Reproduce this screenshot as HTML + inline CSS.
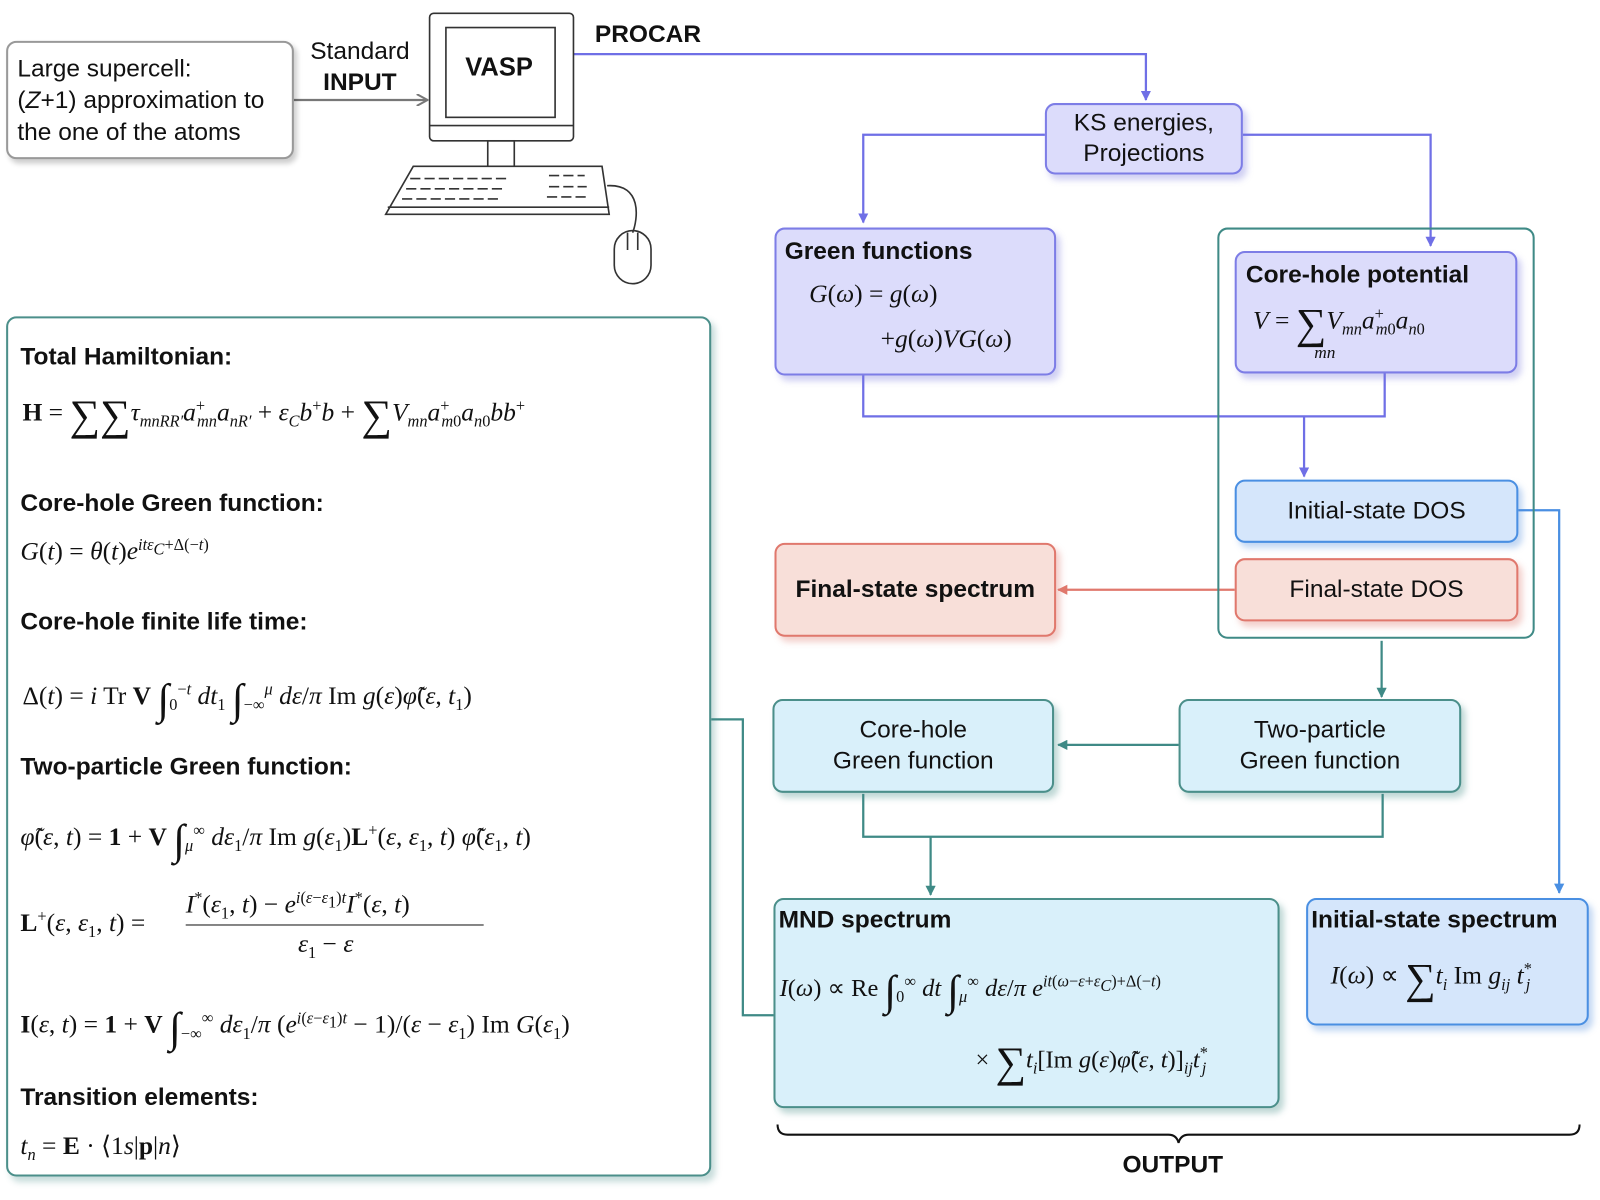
<!DOCTYPE html>
<html><head><meta charset="utf-8"><style>
html,body{margin:0;padding:0;background:#fff;width:1600px;height:1200px;overflow:hidden}
#w{position:absolute;left:0;top:0;width:1568px;height:1176px;transform:scale(1.0204);transform-origin:0 0;font-family:"Liberation Sans",sans-serif;color:#111}
.b{position:absolute;box-sizing:border-box;border-radius:10px;border:2.5px solid}
.p{background:#dcdcfb;border-color:#7d7de6;box-shadow:4px 5px 6px rgba(120,120,220,.35)}
.lb{background:#d5e6fb;border-color:#4a8fe2;box-shadow:4px 5px 6px rgba(80,140,220,.35)}
.r{background:#f8dfd9;border-color:#e0786d;box-shadow:4px 5px 6px rgba(220,120,110,.35)}
.t{background:#d9f0fa;border-color:#4b8f8a;box-shadow:4px 5px 6px rgba(70,140,135,.35)}
.c{display:flex;align-items:center;justify-content:center;text-align:center;font-size:24px;line-height:30px}
.h{font-weight:bold;font-size:24px;position:absolute}
.m{position:absolute;font-family:"Liberation Serif",serif;font-size:25px;white-space:nowrap}
i{font-style:italic}
.s{font-size:42px;vertical-align:-9px}
sub,sup{font-size:16px}
</style></head><body><div id="w">
<svg width="1568" height="1176" style="position:absolute;left:0;top:0">
<defs>
<marker id="ap" markerWidth="10" markerHeight="10" refX="9" refY="5" orient="auto" markerUnits="userSpaceOnUse"><path d="M0,0 L10,5 L0,10 z" fill="#6f6fe6"/></marker>
<marker id="ab" markerWidth="10" markerHeight="10" refX="9" refY="5" orient="auto" markerUnits="userSpaceOnUse"><path d="M0,0 L10,5 L0,10 z" fill="#4a8fe2"/></marker>
<marker id="ar" markerWidth="10" markerHeight="10" refX="9" refY="5" orient="auto" markerUnits="userSpaceOnUse"><path d="M0,0 L10,5 L0,10 z" fill="#e0786d"/></marker>
<marker id="at" markerWidth="10" markerHeight="10" refX="9" refY="5" orient="auto" markerUnits="userSpaceOnUse"><path d="M0,0 L10,5 L0,10 z" fill="#3f8a86"/></marker>
<marker id="ag" markerWidth="12" markerHeight="12" refX="11" refY="6" orient="auto" markerUnits="userSpaceOnUse"><path d="M0,0 L11,6 L0,12" fill="none" stroke="#777" stroke-width="2"/></marker>
</defs>
<g fill="none" stroke-width="2.2">
<path d="M562,53 H1123 V98" stroke="#6f6fe6" marker-end="url(#ap)"/>
<path d="M1024,132 H846 V218" stroke="#6f6fe6" marker-end="url(#ap)"/>
<path d="M1218,132 H1402 V241" stroke="#6f6fe6" marker-end="url(#ap)"/>
<path d="M846,368 V408 H1357 V366 M1278,408 V467" stroke="#6f6fe6" marker-end="url(#ap)"/>
<path d="M1488,500 H1528 V875" stroke="#4a8fe2" marker-end="url(#ab)"/>
<path d="M1210,578 H1037" stroke="#e0786d" marker-end="url(#ar)"/>
<path d="M1354,628 V683" stroke="#3f8a86" marker-end="url(#at)"/>
<path d="M1155,730 H1037" stroke="#3f8a86" marker-end="url(#at)"/>
<path d="M846,778 V820 H1355 V778 M912,820 V877" stroke="#3f8a86" marker-end="url(#at)"/>
<path d="M697,705 H728 V995 H758" stroke="#3f8a86"/>
<path d="M288,98 H419" stroke="#777" marker-end="url(#ag)"/>
<path d="M762,1102 q0,10 10,10 H1145 q8,0 10,8 q2,-8 10,-8 H1538 q10,0 10,-10" stroke="#111" stroke-width="2"/>
</g>
<g fill="none" stroke="#333" stroke-width="1.6">
<rect x="421" y="13" width="141" height="125" rx="4" fill="#fff"/>
<rect x="437" y="27" width="107" height="88" fill="#fff"/>
<line x1="421" y1="123" x2="562" y2="123"/>
<rect x="478" y="138" width="26" height="25"/>
<path d="M405,163 H590 L597,210 H378 Z" fill="#fff"/>
<line x1="380" y1="203" x2="597" y2="203"/>
<path d="M595,182 C630,180 625,215 620,228"/>
<rect x="602" y="226" width="36" height="52" rx="18"/>
<path d="M615,228 V245 M625,228 V245"/>
<path d="M402,175 h95 M398,185 h95 M394,195 h95 M538,172 h35 M538,183 h37 M536,193 h39" stroke-dasharray="10,4"/>
</g>
</svg>
<div class="b" style="left:6px;top:40px;width:282px;height:116px;border-color:#999;box-shadow:3px 4px 5px rgba(0,0,0,.2);padding:10px 0 0 9px;font-size:24px;line-height:31px;background:#fff;white-space:nowrap">Large supercell:<br>(<i>Z</i>+1) approximation to<br>the one of the atoms</div>
<div style="position:absolute;left:304px;top:36px;font-size:24px;text-align:center;line-height:30px">Standard<br><b>INPUT</b></div>
<div style="position:absolute;left:456px;top:52px;font-size:25px;font-weight:bold">VASP</div>
<div style="position:absolute;left:583px;top:20px;font-size:24px;font-weight:bold">PROCAR</div>
<div class="b p c" style="left:1024px;top:101px;width:194px;height:70px">KS energies,<br>Projections</div>
<div class="b p" style="left:759px;top:223px;width:276px;height:145px"><div class="h" style="left:8px;top:8px">Green functions</div>
<div class="m" style="left:32px;top:50px"><i>G</i>(<i>ω</i>) = <i>g</i>(<i>ω</i>)</div><div class="m" style="left:102px;top:94px">+<i>g</i>(<i>ω</i>)<i>VG</i>(<i>ω</i>)</div></div>
<div class="b" style="left:1193px;top:223px;width:311px;height:403px;border-color:#3f8a86;border-radius:10px"></div>
<div class="b p" style="left:1210px;top:246px;width:277px;height:120px"><div class="h" style="left:9px;top:8px">Core-hole potential</div>
<div class="m" style="left:16px;top:46px"><i>V</i> = <span class="s">∑</span><i>V<sub>mn</sub>a</i><sup>+</sup><sub style="margin-left:-8px"><i>m</i>0</sub><i>a<sub>n</sub></i><sub>0</sub></div><div class="m" style="left:76px;top:88px;font-size:17px"><i>mn</i></div></div>
<div class="b lb c" style="left:1210px;top:470px;width:278px;height:62px">Initial-state DOS</div>
<div class="b r c" style="left:1210px;top:547px;width:278px;height:62px">Final-state DOS</div>
<div class="b r c" style="left:759px;top:532px;width:276px;height:92px;font-weight:bold">Final-state spectrum</div>
<div class="b t c" style="left:757px;top:685px;width:276px;height:92px">Core-hole<br>Green function</div>
<div class="b t c" style="left:1155px;top:685px;width:277px;height:92px">Two-particle<br>Green function</div>
<div class="b t" style="left:758px;top:880px;width:496px;height:206px"><div class="h" style="left:3px;top:6px">MND spectrum</div>
<div class="m" style="left:4px;top:66px;font-size:24px"><i>I</i>(<i>ω</i>) ∝ Re <span class="s">∫</span><sub>0</sub><sup>∞</sup> <i>dt</i> <span class="s">∫</span><sub><i>μ</i></sub><sup>∞</sup> <i>dε</i>/<i>π</i> <i>e<sup>it</sup></i><sup>(<i>ω</i>−<i>ε</i>+<i>ε<sub>C</sub></i>)+Δ(−<i>t</i>)</sup></div>
<div class="m" style="left:196px;top:136px;font-size:24px">× <span class="s">∑</span><i>t<sub>i</sub></i>[Im <i>g</i>(<i>ε</i>)<i>φ̃</i>(<i>ε</i>, <i>t</i>)]<sub><i>ij</i></sub><i>t</i><sup>*</sup><sub style="margin-left:-6px"><i>j</i></sub></div></div>
<div class="b lb" style="left:1280px;top:880px;width:277px;height:125px"><div class="h" style="left:3px;top:6px">Initial-state spectrum</div>
<div class="m" style="left:22px;top:54px"><i>I</i>(<i>ω</i>) ∝ <span class="s">∑</span><i>t<sub>i</sub></i> Im <i>g<sub>ij</sub> t</i><sup>*</sup><sub style="margin-left:-6px"><i>j</i></sub></div></div>
<div style="position:absolute;left:1100px;top:1128px;font-size:24px;font-weight:bold">OUTPUT</div>
<div class="b" style="left:6px;top:310px;width:691px;height:843px;border-color:#4b8f8a;background:#fff;box-shadow:4px 5px 6px rgba(70,140,135,.3)">
<div class="h" style="left:12px;top:24px">Total Hamiltonian:</div>
<div class="m" style="left:14px;top:72px"><b>H</b> = <span class="s">∑∑</span><i>τ<sub>mnRR′</sub>a</i><sup>+</sup><sub style="margin-left:-8px"><i>mn</i></sub><i>a<sub>nR′</sub></i> + <i>ε<sub>C</sub>b</i><sup>+</sup><i>b</i> + <span class="s">∑</span><i>V<sub>mn</sub>a</i><sup>+</sup><sub style="margin-left:-8px"><i>m</i>0</sub><i>a<sub>n</sub></i><sub>0</sub><i>bb</i><sup>+</sup></div>
<div class="h" style="left:12px;top:168px">Core-hole Green function:</div>
<div class="m" style="left:12px;top:214px"><i>G</i>(<i>t</i>) = <i>θ</i>(<i>t</i>)<i>e<sup>itε<sub>C</sub></sup></i><sup>+Δ(−<i>t</i>)</sup></div>
<div class="h" style="left:12px;top:284px">Core-hole finite life time:</div>
<div class="m" style="left:14px;top:350px">Δ(<i>t</i>) = <i>i</i> Tr <b>V</b> <span class="s">∫</span><sub>0</sub><sup>−<i>t</i></sup> <i>dt</i><sub>1</sub> <span class="s">∫</span><sub>−∞</sub><sup><i>μ</i></sup> <i>dε</i>/<i>π</i> Im <i>g</i>(<i>ε</i>)<i>φ̃</i>(<i>ε</i>, <i>t</i><sub>1</sub>)</div>
<div class="h" style="left:12px;top:426px">Two-particle Green function:</div>
<div class="m" style="left:12px;top:488px"><i>φ̃</i>(<i>ε</i>, <i>t</i>) = <b>1</b> + <b>V</b> <span class="s">∫</span><sub><i>μ</i></sub><sup>∞</sup> <i>dε</i><sub>1</sub>/<i>π</i> Im <i>g</i>(<i>ε</i><sub>1</sub>)<b>L</b><sup>+</sup>(<i>ε</i>, <i>ε</i><sub>1</sub>, <i>t</i>) <i>φ̃</i>(<i>ε</i><sub>1</sub>, <i>t</i>)</div>
<div class="m" style="left:12px;top:578px"><b>L</b><sup>+</sup>(<i>ε</i>, <i>ε</i><sub>1</sub>, <i>t</i>) =</div>
<div class="m" style="left:174px;top:560px"><i>I</i><sup>*</sup>(<i>ε</i><sub>1</sub>, <i>t</i>) − <i>e</i><sup><i>i</i>(<i>ε</i>−<i>ε</i><sub>1</sub>)<i>t</i></sup><i>I</i><sup>*</sup>(<i>ε</i>, <i>t</i>)</div>
<div style="position:absolute;left:174px;top:594px;width:292px;border-top:1.5px solid #111"></div>
<div class="m" style="left:284px;top:600px"><i>ε</i><sub>1</sub> − <i>ε</i></div>
<div class="m" style="left:12px;top:672px"><b>I</b>(<i>ε</i>, <i>t</i>) = <b>1</b> + <b>V</b> <span class="s">∫</span><sub>−∞</sub><sup>∞</sup> <i>dε</i><sub>1</sub>/<i>π</i> (<i>e</i><sup><i>i</i>(<i>ε</i>−<i>ε</i><sub>1</sub>)<i>t</i></sup> − 1)/(<i>ε</i> − <i>ε</i><sub>1</sub>) Im <i>G</i>(<i>ε</i><sub>1</sub>)</div>
<div class="h" style="left:12px;top:750px">Transition elements:</div>
<div class="m" style="left:12px;top:796px"><i>t<sub>n</sub></i> = <b>E</b> · ⟨1<i>s</i>|<b>p</b>|<i>n</i>⟩</div>
</div>
</div></body></html>
